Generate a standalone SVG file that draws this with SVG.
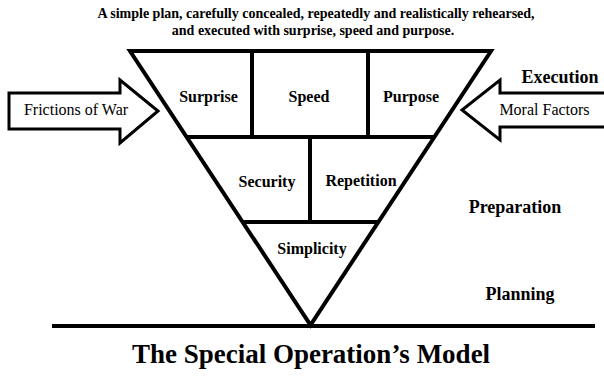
<svg xmlns="http://www.w3.org/2000/svg" width="604" height="377" viewBox="0 0 604 377">
<style>
.ln{stroke:#000;stroke-width:4;fill:none}
.arr{fill:#fff;stroke:#000;stroke-width:3;stroke-linejoin:miter}
text{font-family:'Liberation Serif','Times New Roman',Times,'DejaVu Serif',serif;fill:#000;text-anchor:middle}
.b{font-weight:bold}
</style>
<rect width="604" height="377" fill="#fff"/>
<g id="subtitle">
<text class="b" x="316" y="18" font-size="14">A simple plan, carefully concealed, repeatedly and realistically rehearsed,</text>
<text class="b" x="313" y="35" font-size="14">and executed with surprise, speed and purpose.</text>
</g>
<g id="connectors">
<polygon class="arr" points="9,93 120,93 120,80 158,111 120,143 120,129 9,129"/>
<polygon class="arr" points="608,93 500,93 500,80 462,110 500,140 500,127 608,127"/>
<line class="ln" x1="52" y1="326" x2="595" y2="326"/>
</g>
<g id="pyramid">
<polygon class="ln" points="130,51 491,51 310.5,325" stroke-linejoin="miter"/>
<line class="ln" x1="186" y1="137" x2="435" y2="137"/>
<line class="ln" x1="242" y1="222" x2="379" y2="222"/>
<line class="ln" x1="252" y1="51" x2="252" y2="137"/>
<line class="ln" x1="368" y1="51" x2="368" y2="137"/>
<line class="ln" x1="310" y1="137" x2="310" y2="222"/>
</g>
<g id="surprise"><text class="b" x="208.5" y="102" font-size="16">Surprise</text></g>
<g id="speed"><text class="b" x="309" y="102" font-size="16">Speed</text></g>
<g id="purpose"><text class="b" x="411" y="102" font-size="16">Purpose</text></g>
<g id="security"><text class="b" x="267" y="187" font-size="16">Security</text></g>
<g id="repetition"><text class="b" x="361" y="186" font-size="16">Repetition</text></g>
<g id="simplicity"><text class="b" x="312" y="254" font-size="16">Simplicity</text></g>
<g id="frictions"><text x="76" y="115" font-size="16">Frictions of War</text></g>
<g id="moral"><text x="544.5" y="115" font-size="16">Moral Factors</text></g>
<g id="execution"><text class="b" x="560" y="83" font-size="18">Execution</text></g>
<g id="preparation"><text class="b" x="515" y="213" font-size="18">Preparation</text></g>
<g id="planning"><text class="b" x="520" y="300" font-size="18">Planning</text></g>
<g id="title"><text class="b" x="311" y="363" font-size="27">The Special Operation’s Model</text></g>
</svg>
